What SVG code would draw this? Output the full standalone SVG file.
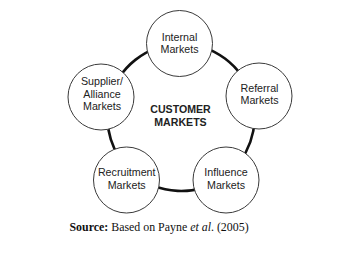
<svg xmlns="http://www.w3.org/2000/svg" width="347" height="253" viewBox="0 0 347 253">
<style>
.node circle{fill:#fff;stroke:#3a3a3a;stroke-width:1}
.node text{font-family:"Liberation Sans",Arial,sans-serif;font-size:10.7px;fill:#222;text-anchor:middle}
.ring{fill:none;stroke:#111;stroke-width:2.6}
.center{font-family:"Liberation Sans",Arial,sans-serif;font-size:10.6px;font-weight:bold;fill:#222;text-anchor:middle}
.src{font-family:"Liberation Serif","Times New Roman",serif;font-size:11.9px;fill:#111}
</style>
<rect width="347" height="253" fill="#fff"/>
<g id="connectors">
<path class="ring" d="M179.46,44 A73.5,73.5 0 0 1 251.86,97.98"/>
<path class="ring" d="M251.86,97.98 A73.5,73.5 0 0 1 224,177.1"/>
<path class="ring" d="M224,177.1 A73.5,73.5 0 0 1 132.64,172.85"/>
<path class="ring" d="M132.64,172.85 A73.5,73.5 0 0 1 109.81,99.22"/>
<path class="ring" d="M109.81,99.22 A73.5,73.5 0 0 1 179.46,44"/>
</g>
<g id="internal" class="node">
<circle cx="179.5" cy="43.5" r="33"/>
<text x="179.5" y="40.7">Internal</text>
<text x="179.5" y="53.3">Markets</text>
</g>
<g id="referral" class="node">
<circle cx="259" cy="96" r="33"/>
<text x="259.5" y="91.7">Referral</text>
<text x="259.5" y="104.3">Markets</text>
</g>
<g id="influence" class="node">
<circle cx="226" cy="180" r="33"/>
<text x="226" y="176">Influence</text>
<text x="226" y="188.6">Markets</text>
</g>
<g id="recruitment" class="node">
<circle cx="126.5" cy="180" r="33"/>
<text x="126.7" y="176">Recruitment</text>
<text x="126.7" y="188.6">Markets</text>
</g>
<g id="supplier" class="node">
<circle cx="101" cy="97" r="33"/>
<text x="102" y="85">Supplier/</text>
<text x="102" y="97.6">Alliance</text>
<text x="102" y="110.2">Markets</text>
</g>
<g id="customer">
<text class="center" x="180.5" y="113.3">CUSTOMER</text>
<text class="center" x="180.5" y="126">MARKETS</text>
</g>
<text class="src" x="69.5" y="231"><tspan font-weight="bold">Source:</tspan> Based on Payne <tspan font-style="italic">et al</tspan>. (2005)</text>
</svg>
